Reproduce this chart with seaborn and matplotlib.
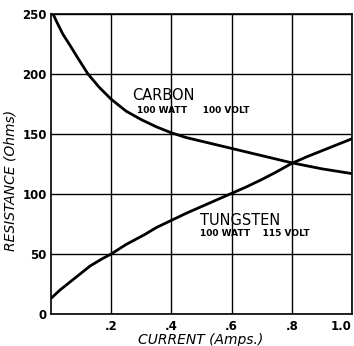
import matplotlib
matplotlib.use("Agg")
import matplotlib.pyplot as plt
import seaborn as sns
import pandas as pd

# Resistance vs current for two 100 W lamps
carbon_current = [0.007, 0.02, 0.04, 0.063, 0.09, 0.123, 0.16, 0.2, 0.25, 0.3,
                  0.35, 0.4, 0.45, 0.5, 0.55, 0.6, 0.65, 0.7, 0.75, 0.8, 0.85,
                  0.9, 0.95, 1.0]
carbon_resistance = [250, 243, 233, 224, 213, 200, 189, 179, 169, 162,
                     156, 151, 147, 144, 141, 138, 135, 132, 129, 126, 123.5,
                     121, 119, 117]

tungsten_current = [0.0, 0.03, 0.06, 0.09, 0.13, 0.17, 0.2, 0.25, 0.31, 0.35,
                    0.4, 0.45, 0.5, 0.55, 0.6, 0.65, 0.7, 0.75, 0.8, 0.85,
                    0.9, 0.95, 1.0]
tungsten_resistance = [13, 20, 26, 32, 40, 46, 50, 58, 66, 72,
                       78, 84, 89.5, 95, 100.5, 106, 112, 118.5, 125.5, 131,
                       136, 141, 146]

x_ticks = [0.2, 0.4, 0.6, 0.8, 1.0]
x_tick_labels = [".2", ".4", ".6", ".8", "1.0"]
y_ticks = [0, 50, 100, 150, 200, 250]

df = pd.concat([
    pd.DataFrame({"current": carbon_current, "resistance": carbon_resistance, "lamp": "Carbon"}),
    pd.DataFrame({"current": tungsten_current, "resistance": tungsten_resistance, "lamp": "Tungsten"}),
])

sns.set_style("white")
plt.rcParams["font.family"] = ["DejaVu Sans"]
plt.rcParams["text.color"] = "black"
plt.rcParams["axes.labelcolor"] = "black"
plt.rcParams["xtick.color"] = "black"
plt.rcParams["ytick.color"] = "black"

fig = plt.figure(figsize=(3.54, 3.46), dpi=100)
ax = fig.add_axes([0.144, 0.0925, 0.850, 0.867])

sns.lineplot(data=df, x="current", y="resistance", units="lamp", estimator=None,
             color="black", linewidth=2.0, ax=ax, legend=False)

ax.set_xlim(0, 1.0)
ax.set_ylim(0, 250)
ax.set_xticks(x_ticks)
ax.set_xticklabels(x_tick_labels)
ax.set_yticks(y_ticks)
ax.grid(True, color="black", linewidth=1.0)
ax.tick_params(length=0, labelsize=8.5, pad=4)
ax.tick_params(axis="y", pad=3)
for lbl in ax.get_xticklabels() + ax.get_yticklabels():
    lbl.set_fontweight("bold")
ax.get_xticklabels()[-1].set_horizontalalignment("right")
for s in ax.spines.values():
    s.set_color("black")
    s.set_linewidth(1.2)

ax.set_xlabel("CURRENT (Amps.)", fontstyle="italic", fontsize=10)
ax.xaxis.set_label_coords(0.497, -0.063, transform=ax.transAxes)
ax.xaxis.label.set_va("top")
ax.set_ylabel("RESISTANCE (Ohms)", fontstyle="italic", fontsize=10)
ax.yaxis.set_label_coords(-0.135, 0.445, transform=ax.transAxes)
ax.yaxis.label.set_va("center")

ax.text(0.27, 182, "CARBON", fontsize=10.5, ha="left", va="center")
ax.text(0.285, 170, "100 WATT     100 VOLT", fontsize=6.5, fontweight="bold",
        ha="left", va="center")
ax.text(0.495, 78, "TUNGSTEN", fontsize=10.5, ha="left", va="center")
ax.text(0.495, 67, "100 WATT    115 VOLT", fontsize=6.5, fontweight="bold",
        ha="left", va="center")

fig.savefig("out.png", dpi=100, facecolor="white")
